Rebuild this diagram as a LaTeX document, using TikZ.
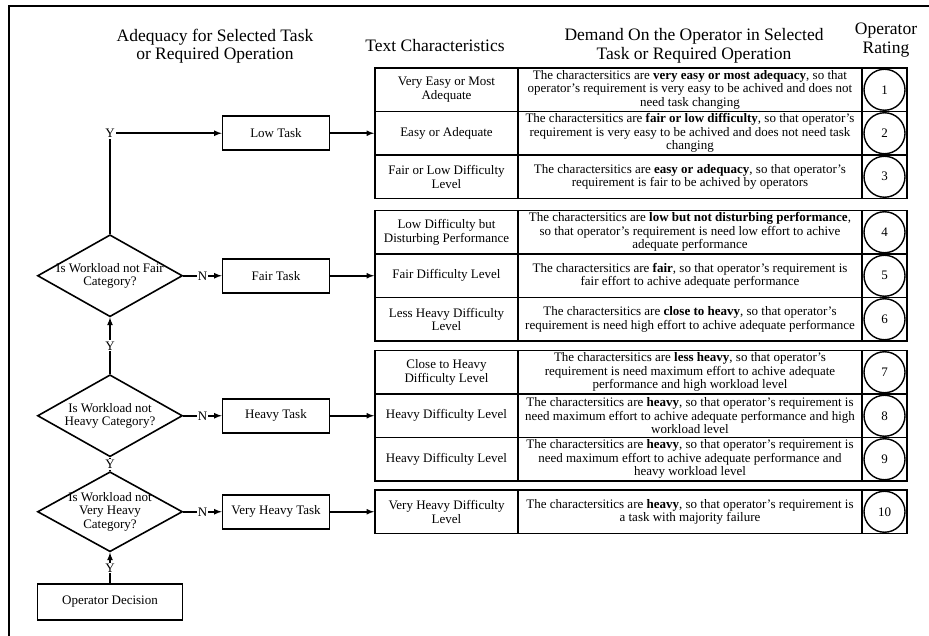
\documentclass[tikz,border=0pt]{standalone}
\usepackage{fontspec}
\setmainfont{Liberation Serif}
\usetikzlibrary{shapes.geometric}
\begin{document}
\begin{tikzpicture}[x=1pt,y=-1pt]
    \tikzstyle{head}=[align=center,font=\fontsize{17.5}{18.5}\selectfont]
    \tikzstyle{task}=[draw,line width=1.6pt,minimum width=107pt,minimum height=34pt,font=\fontsize{13}{14}\selectfont]
    \tikzstyle{decision}=[draw,line width=1.6pt,shape=diamond,minimum width=145pt,minimum height=82pt,inner sep=0pt]
    \tikzstyle{qtext}=[align=center,font=\fontsize{13}{13.5}\selectfont]
    \tikzstyle{charcell}=[draw,line width=1.8pt,minimum width=143pt,minimum height=43.5pt,inner sep=0pt,align=center,font=\fontsize{13}{13.5}\selectfont]
    \tikzstyle{demcell}=[charcell,minimum width=344pt]
    \tikzstyle{ratecell}=[draw,line width=1.8pt,minimum width=45pt,minimum height=43.5pt,inner sep=0pt]
    \tikzstyle{rating}=[draw,line width=1.4pt,circle,minimum size=41pt,inner sep=0pt,font=\fontsize{13}{13}\selectfont]
    \tikzstyle{yn}=[fill=white,inner sep=1pt,font=\fontsize{13}{13}\selectfont]
    \tikzstyle{flow}=[line width=1.6pt,-latex]

    \useasboundingbox (0,0) rectangle (929,636);
    \draw[line width=1.6pt] (9,636) -- (9,6) -- (929,6);

    \node[head] at (215,46) (hadeq) {Adequacy for Selected Task\\or Required Operation};
    \node[head] at (435,46) (htext) {Text Characteristics};
    \node[head] at (694,46) (hdemand) {Demand On the Operator in Selected\\Task or Required Operation};
    \node[head] at (886,40) (hrating) {Operator\\Rating};

    \node[task] at (276,133.25) (low) {Low Task};
    \node[task] at (276,275.75) (fair) {Fair Task};
    \node[task] at (276,415.75) (heavy) {Heavy Task};
    \node[task] at (276,511.75) (vheavy) {Very Heavy Task};
    \node[task,minimum width=145pt,minimum height=36pt] at (110,602) (decide) {Operator Decision};

    \node[decision,label={[qtext]center:{Is Workload not Fair\\Category?}}] at (110,275.75) (qfair) {};
    \node[decision,label={[qtext]center:{Is Workload not\\Heavy Category?}}] at (110,415.75) (qheavy) {};
    \node[decision,minimum height=80pt,label={[qtext]center:{Is Workload not\\Very Heavy\\Category?}}] at (110,511.75) (qvheavy) {};

    \foreach \n/\y/\lvl/\dem in {
        1/89.75/{Very Easy or Most\\Adequate}/{The charactersitics are \textbf{very easy or most adequacy}, so that\\operator's requirement is very easy to be achived and does not\\need task changing},
        2/133.25/{Easy or Adequate}/{The charactersitics are \textbf{fair or low difficulty}, so that operator's\\requirement is very easy to be achived and does not need task\\changing},
        3/176.75/{Fair or Low Difficulty\\Level}/{The charactersitics are \textbf{easy or adequacy}, so that operator's\\requirement is fair to be achived by operators},
        4/232.25/{Low Difficulty but\\Disturbing Performance}/{The charactersitics are \textbf{low but not disturbing performance},\\so that operator's requirement is need low effort to achive\\adequate performance},
        5/275.75/{Fair Difficulty Level}/{The charactersitics are \textbf{fair}, so that operator's requirement is\\fair effort to achive adequate performance},
        6/319.25/{Less Heavy Difficulty\\Level}/{The charactersitics are \textbf{close to heavy}, so that operator's\\requirement is need high effort to achive adequate performance},
        7/372.25/{Close to Heavy\\Difficulty Level}/{The charactersitics are \textbf{less heavy}, so that operator's\\requirement is need maximum effort to achive adequate\\performance and high workload level},
        8/415.75/{Heavy Difficulty Level}/{The charactersitics are \textbf{heavy}, so that operator's requirement is\\need maximum effort to achive adequate performance and high\\workload level},
        9/459.25/{Heavy Difficulty Level}/{The charactersitics are \textbf{heavy}, so that operator's requirement is\\need maximum effort to achive adequate performance and\\heavy workload level},
        10/511.75/{Very Heavy Difficulty\\Level}/{The charactersitics are \textbf{heavy}, so that operator's requirement is\\a task with majority failure}}
    {
        \node[charcell] at (446.5,\y) (char\n) {\lvl};
        \node[demcell] at (690,\y) (dem\n) {\dem};
        \node[ratecell] at (884.5,\y) (cell\n) {};
        \node[rating] at (884.5,\y) (rate\n) {\n};
    }

    \draw[flow] (qfair.north) |- node[pos=0.5,yn] {Y} (low.west);
    \draw[flow] (qheavy.north) -- node[yn] {Y} (qfair.south);
    \draw[line width=1.6pt] (qvheavy.north) -- node[yn] {Y} (qheavy.south);
    \draw[flow] (decide.north) -- node[yn] {Y} (qvheavy.south);

    \draw[flow] (qfair.east) -- node[yn] {N} (fair.west);
    \draw[flow] (qheavy.east) -- node[yn] {N} (heavy.west);
    \draw[flow] (qvheavy.east) -- node[yn] {N} (vheavy.west);

    \draw[flow] (low.east) -- (char2.west);
    \draw[flow] (fair.east) -- (char5.west);
    \draw[flow] (heavy.east) -- (char8.west);
    \draw[flow] (vheavy.east) -- (char10.west);
\end{tikzpicture}
\end{document}
